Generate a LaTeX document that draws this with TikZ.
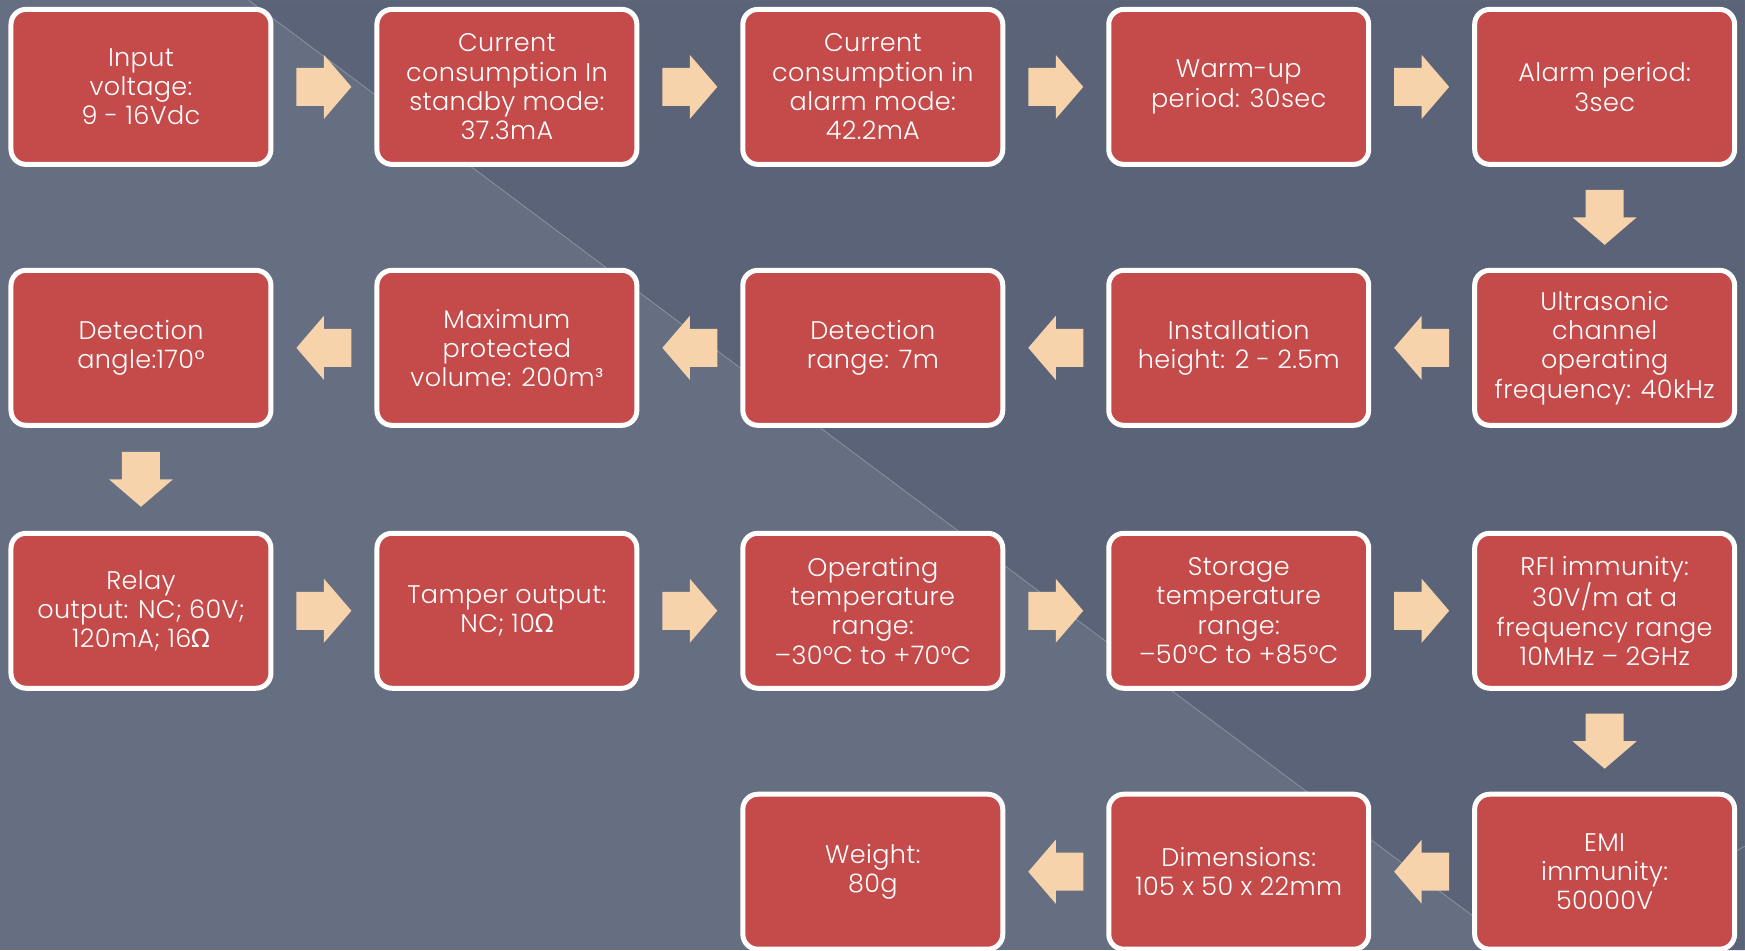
\documentclass[tikz,border=0pt]{standalone}
\usepackage{fontspec}
\setmainfont{Poppins}[UprightFont=* Light,LetterSpace=1.5]
\newfontfamily\grk{Noto Sans}
\usetikzlibrary{calc}
\definecolor{bglight}{HTML}{666E82}
\definecolor{bgdark}{HTML}{5B6378}
\definecolor{seam}{HTML}{8A92A4}
\definecolor{boxred}{HTML}{C54A4A}
\definecolor{peach}{HTML}{F6D3AA}
\newcommand{\ohm}{{\grk Ω}}

\begin{document}
\begin{tikzpicture}[
  x=1pt,y=-1pt,
  every node/.style={font=\fontsize{25.5}{29.3}\selectfont,text=white,align=center},
  spec/.style={rectangle,rounded corners=15pt,draw=white,line width=5pt,fill=boxred,
    minimum width=260pt,minimum height=155pt,inner sep=0pt},
  blockarrow/.pic={\fill[peach] (-27.5,-19) -- (0,-19) -- (0,-32) -- (27.5,0)
    -- (0,32) -- (0,19) -- (-27.5,19) -- cycle;},
  toright/.style={},
  toleft/.style={rotate=180},
  todown/.style={rotate=-90}
]
% background
\fill[bglight] (0,0) rectangle (1745,950);
\fill[bgdark] (249,0) -- (1745,0) -- (1745,950) -- (1519,950) -- cycle;
\draw[seam,line width=0.8pt] (249,0) -- (1519,950);
\draw[seam,line width=0.8pt] (1700,872) -- (1745,846);
\useasboundingbox (0,0) rectangle (1745,950);

% row 1
\node[spec] (inp) at (141,86.5) {Input\\voltage:\\9 - 16Vdc};
\node[spec] (stby) at (507,86.5) {Current\\consumption In\\standby mode:\\37.3mA};
\node[spec] (alrm) at (873,86.5) {Current\\consumption in\\alarm mode:\\42.2mA};
\node[spec] (warm) at (1239,86.5) {Warm-up\\period: 30sec};
\node[spec] (aper) at (1605,86.5) {Alarm period:\\3sec};
% row 2
\node[spec] (ultra) at (1605,347.5) {Ultrasonic\\channel\\operating\\frequency: 40kHz};
\node[spec] (inst) at (1239,347.5) {Installation\\height: 2 - 2.5m};
\node[spec] (range) at (873,347.5) {Detection\\range: 7m};
\node[spec] (vol) at (507,347.5) {Maximum\\protected\\volume: 200m³};
\node[spec] (angle) at (141,347.5) {Detection\\angle:170°};
% row 3
\node[spec] (relay) at (141,610.5) {Relay\\output: NC; 60V;\\120mA; 16\ohm};
\node[spec] (tamp) at (507,610.5) {Tamper output:\\NC; 10\ohm};
\node[spec] (optemp) at (873,610.5) {Operating\\temperature\\range:\\–30°C to +70°C};
\node[spec] (sttemp) at (1239,610.5) {Storage\\temperature\\range:\\–50°C to +85°C};
\node[spec] (rfi) at (1605,610.5) {RFI immunity:\\30V/m at a\\frequency range\\10MHz – 2GHz};
% row 4
\node[spec] (emi) at (1605,871.5) {EMI\\immunity:\\50000V};
\node[spec] (dim) at (1239,871.5) {Dimensions:\\105 x 50 x 22mm};
\node[spec] (wt) at (873,871.5) {Weight:\\80g};

% arrows
\pic[toright] at ($(inp)!0.5!(stby)$) {blockarrow};
\pic[toright] at ($(stby)!0.5!(alrm)$) {blockarrow};
\pic[toright] at ($(alrm)!0.5!(warm)$) {blockarrow};
\pic[toright] at ($(warm)!0.5!(aper)$) {blockarrow};
\pic[todown] at ($(aper)!0.5!(ultra)$) {blockarrow};
\pic[toleft] at ($(ultra)!0.5!(inst)$) {blockarrow};
\pic[toleft] at ($(inst)!0.5!(range)$) {blockarrow};
\pic[toleft] at ($(range)!0.5!(vol)$) {blockarrow};
\pic[toleft] at ($(vol)!0.5!(angle)$) {blockarrow};
\pic[todown] at ($(angle)!0.5!(relay)$) {blockarrow};
\pic[toright] at ($(relay)!0.5!(tamp)$) {blockarrow};
\pic[toright] at ($(tamp)!0.5!(optemp)$) {blockarrow};
\pic[toright] at ($(optemp)!0.5!(sttemp)$) {blockarrow};
\pic[toright] at ($(sttemp)!0.5!(rfi)$) {blockarrow};
\pic[todown] at ($(rfi)!0.5!(emi)$) {blockarrow};
\pic[toleft] at ($(emi)!0.5!(dim)$) {blockarrow};
\pic[toleft] at ($(dim)!0.5!(wt)$) {blockarrow};
\end{tikzpicture}
\end{document}
